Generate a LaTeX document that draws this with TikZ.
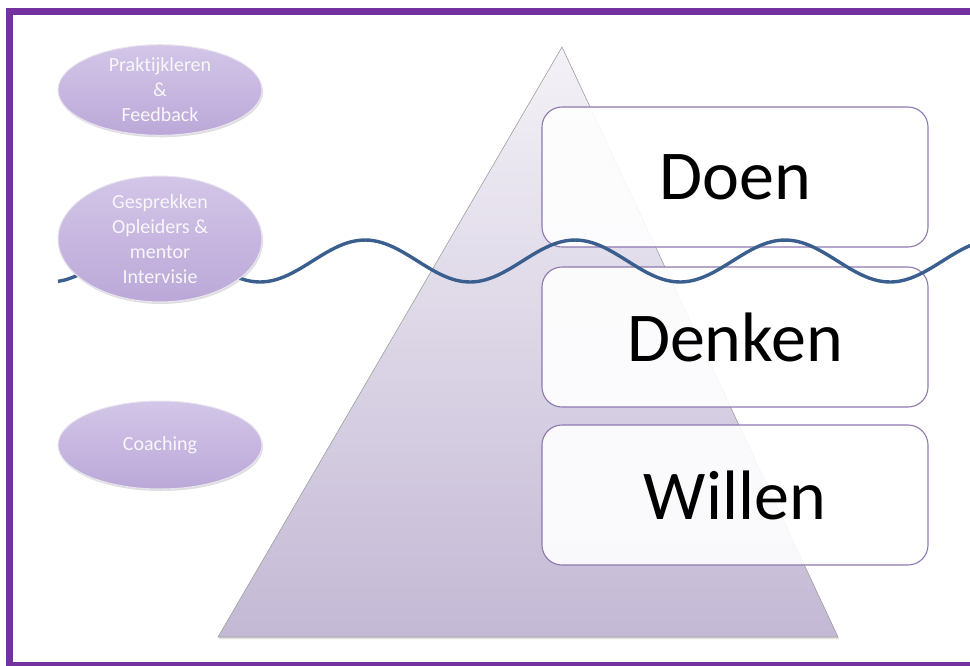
\documentclass[tikz,border=0pt]{standalone}
\usepackage{fontspec}
\setmainfont{Carlito}[Ligatures=NoCommon]
\usepackage{tikz}
\usetikzlibrary{
	calc,
	shapes.geometric,
	shadows,
}
\definecolor{kader}{HTML}{7332A0}
\definecolor{golf}{HTML}{3A5F8F}
\definecolor{lijn}{HTML}{8D78AE}
\definecolor{ovaalboven}{HTML}{D3C6E8}
\definecolor{ovaalonder}{HTML}{BBA8D8}

\begin{document}
\begin{tikzpicture}[x=1pt,y=-1pt,
		laag/.style={draw=lijn, line width=1.1pt, rounded corners=20pt, fill=white, fill opacity=.9, text opacity=1,
			minimum width=386pt, minimum height=140pt, font=\fontsize{70}{80}\selectfont},
		ovaal/.style={ellipse, draw=white!80!lijn, line width=1pt, top color=ovaalboven, bottom color=ovaalonder,
			drop shadow={opacity=.25, shadow xshift=1pt, shadow yshift=-2pt},
			minimum width=204pt, minimum height=88pt, inner sep=0pt, align=center,
			text=white!94!lijn, font=\fontsize{20}{25}\selectfont},
	]
				\useasboundingbox (0,0) rectangle (970,665);
				\clip (0,0) rectangle (970,665);
				\coordinate (T) at (562,47);
				\coordinate (L) at (218,637);
				\coordinate (R) at (838,637);
				% piramide
				\fill[gray!40, opacity=.6] ($(L)+(1,2)$) -- ($(R)+(1,2)$) -- ($(T)+(1,2)$) -- cycle;
				\shade[top color=lijn!10, bottom color=lijn!52, draw=gray!75, line width=.6pt] (T) -- (L) -- (R) -- cycle;
				\node[laag] (doen) at (735,177) {Doen};
				\node[laag] (denken) at (735,337) {Denken};
				\node[laag] (willen) at (735,495) {Willen};
				% golf
				\draw[golf, line width=3.4pt] plot[smooth, domain=58:985, samples=120] (\x, {261+21*cos((\x-260)/210*360)});
				\node[ovaal] (praktijk) at (160,90) {Praktijkleren\\\&\\Feedback};
				\node[ovaal] (gesprek) at (160,239) {Gesprekken\\Opleiders \&\\mentor\\Intervisie};
				\node[ovaal] (coach) at (160,445) {Coaching};
				% kader, rechts buiten beeld
				\draw[kader, line width=7pt] (980,11.5) -- (9.5,11.5) -- (9.5,665.5) -- (980,665.5);
\end{tikzpicture}
\end{document}
